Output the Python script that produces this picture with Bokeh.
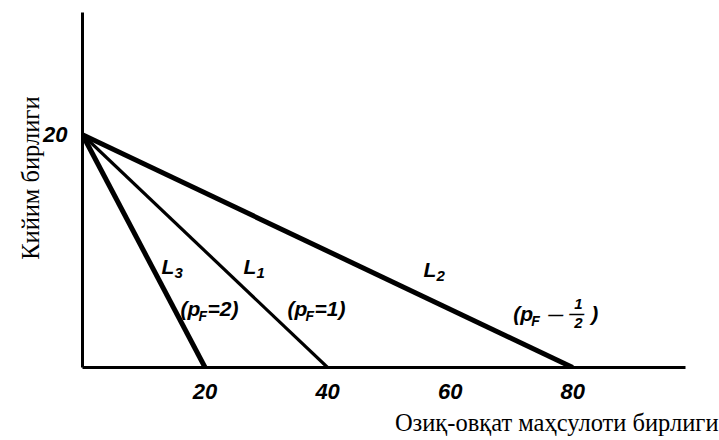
from bokeh.plotting import figure
from bokeh.models import Range1d, FixedTicker, ColumnDataSource, Title
from bokeh.core.properties import value
from bokeh.embed import file_html
from bokeh.resources import INLINE

# ---- data ----
clothing_max = [20, 20, 20]          # y-intercepts (units of clothing)
food_max = [40, 80, 20]              # x-intercepts (units of food)
line_names = ["L1", "L2", "L3"]
price_labels = ["1", "1/2", "2"]
x_ticks = [20, 40, 60, 80]
y_ticks = [20]
x_title = "Озиқ-овқат маҳсулоти бирлиги"
y_title = "Кийим бирлиги"

W, H = 719, 440
p = figure(width=W, height=H, output_backend="svg", toolbar_location=None,
           x_range=Range1d(0, 98.4), y_range=Range1d(0, 30.5),
           min_border_left=82, min_border_right=34, min_border_top=12,
           min_border_bottom=70)
p.outline_line_color = None
p.grid.visible = False
p.background_fill_color = "white"
p.border_fill_color = "white"

for ax in (p.xaxis[0], p.yaxis[0]):
    ax.axis_line_width = 3
    ax.axis_line_color = "black"
    ax.major_tick_line_color = None
    ax.minor_tick_line_color = None
    ax.major_label_text_font = "Liberation Sans"
    ax.major_label_text_font_style = "bold italic"
    ax.major_label_text_font_size = "22px"
    ax.major_label_text_color = "black"
p.xaxis.ticker = FixedTicker(ticks=x_ticks)
p.yaxis.ticker = FixedTicker(ticks=y_ticks)
p.xaxis.major_label_standoff = 10
p.yaxis.major_label_standoff = 9
p.yaxis.axis_label_standoff = 0

# budget lines
widths = [3.2, 5, 5]
src = ColumnDataSource(dict(x0=[0] * 3, y0=clothing_max, x1=food_max,
                            y1=[0] * 3, w=widths))
p.segment(x0="x0", y0="y0", x1="x1", y1="y1", line_width="w",
          line_color="black", source=src)

# reference pixel -> data helpers for label anchors
def dx(px):
    return (px - 82) / 6.13

def dy(py):
    return (370 - py) / 11.75

font = value("Liberation Sans")

def txt(x, y, s, size, xo=0, yo=0, align="left"):
    p.text(x=[x], y=[y], text=[s], text_font=font, text_font_style="bold italic",
           text_font_size=size, text_align=align, text_baseline="middle",
           x_offset=xo, y_offset=yo, text_color="black")

# line names L with subscripts
name_pos = [(243, 268), (423, 271), (161, 268)]
for (px, py), nm in zip(name_pos, line_names):
    txt(dx(px), dy(py), "L", "21px")
    txt(dx(px), dy(py), nm[1], "15px", xo=13, yo=7)

# price annotations
price_pos = [(287, 310), (513, 315), (180, 310)]
for (px, py), pr in zip(price_pos, price_labels):
    x, y = dx(px), dy(py)
    txt(x, y, "(p", "21px")
    txt(x, y, "F", "14px", xo=18, yo=8)
    if pr == "1/2":
        txt(x, y, "\u2014", "15px", xo=35, yo=1)
        txt(x, y, "1", "15px", xo=61, yo=-9)
        txt(x, y, "\u2014", "15px", xo=56, yo=0)
        txt(x, y, "2", "15px", xo=61, yo=10)
        txt(x, y, ")", "21px", xo=78)
    else:
        txt(x, y, "=" + pr + ")", "21px", xo=27)

# axis titles
p.add_layout(Title(text=y_title, align="right", offset=84, standoff=-6,
                   text_font="Liberation Serif", text_font_size="24.5px",
                   text_font_style="normal", text_color="black"), "left")
p.add_layout(Title(text=x_title, align="right", offset=-33,
                   text_font="Liberation Serif", text_font_size="24.5px",
                   text_font_style="normal", text_color="black"), "below")

open("out.html", "w").write(file_html(p, INLINE))
